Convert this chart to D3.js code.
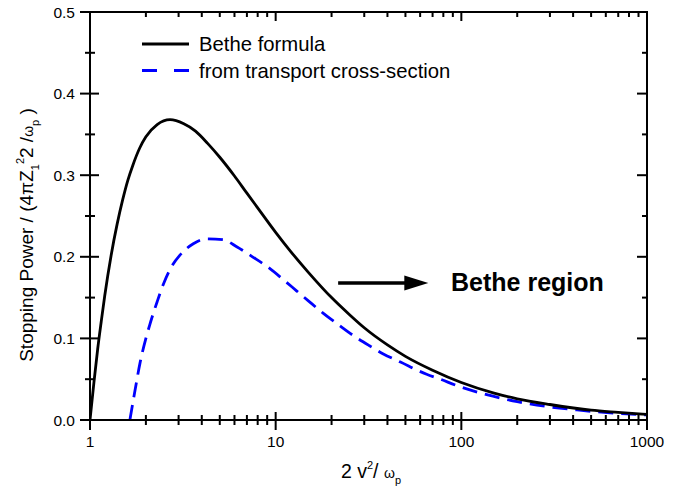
<!DOCTYPE html>
<html><head><meta charset="utf-8">
<script src="https://cdn.jsdelivr.net/npm/d3@7"></script>
<style>
body{margin:0;background:#fff}
svg{display:block}
text{font-family:"Liberation Sans",Arial,Helvetica,sans-serif;fill:#000}
</style>
</head><body>
<svg id="chart" width="692" height="498"></svg>
<script>
// ---- data ----
const betheX = [1, 1.05, 1.1, 1.15, 1.2, 1.3, 1.4, 1.5, 1.6, 1.7, 1.85, 2, 2.3, 2.7, 3.2, 3.7, 4.3, 5, 6, 7, 8, 10, 12, 15, 20, 25, 30, 40, 50, 70, 100, 150, 200, 300, 500, 700, 1000];
const betheY = [0, 0.046, 0.087, 0.121, 0.152, 0.202, 0.240, 0.270, 0.294, 0.312, 0.333, 0.347, 0.362, 0.368, 0.363, 0.354, 0.339, 0.322, 0.299, 0.278, 0.260, 0.230, 0.207, 0.181, 0.150, 0.129, 0.113, 0.092, 0.078, 0.061, 0.046, 0.033, 0.026, 0.019, 0.012, 0.0094, 0.0069];

const transX = [1.64, 1.75, 1.86, 2.0, 2.1, 2.3, 2.5, 2.75, 3.05, 3.6, 4.25, 5.2, 6.2, 7.5, 9, 11, 13, 15, 18, 22, 26, 32, 38, 47, 65, 77, 95, 137, 200, 290, 420, 610, 1000];
const transY = [0, 0.037, 0.070, 0.100, 0.117, 0.145, 0.168, 0.188, 0.202, 0.216, 0.222, 0.221, 0.212, 0.200, 0.188, 0.172, 0.158, 0.146, 0.131, 0.116, 0.104, 0.091, 0.081, 0.071, 0.056, 0.050, 0.042, 0.031, 0.0225, 0.0165, 0.0123, 0.009, 0.0062];

const seriesNames = ["Bethe formula", "from transport cross-section"];
const seriesColors = ["#000000", "#0000ff"];

const xMajorTicks = [1, 10, 100, 1000];
const xTickLabels = ["1", "10", "100", "1000"];
const yMajorTicks = [0, 0.1, 0.2, 0.3, 0.4, 0.5];
const yTickLabels = ["0.0", "0.1", "0.2", "0.3", "0.4", "0.5"];
const yMinorTicks = [0.05, 0.15, 0.25, 0.35, 0.45];

const annotationText = "Bethe region";
const arrowFromX = 21.7, arrowToX = 66.4, arrowY = 0.168, annotationX = 88;

// ---- layout ----
const svg = d3.select("#chart");
const L = 90, R = 647, T = 12, B = 420;

const x = d3.scaleLog().domain([1, 1000]).range([L, R]);
const y = d3.scaleLinear().domain([0, 0.5]).range([B, T]);

const xMinorTicks = x.ticks().filter(v => !xMajorTicks.includes(v));

const g = svg.append("g");

svg.append("defs").append("clipPath").attr("id", "clip")
  .append("rect").attr("x", L).attr("y", T).attr("width", R - L).attr("height", B - T);

const line = d3.line().x(d => x(d[0])).y(d => y(d[1])).curve(d3.curveMonotoneX);

g.append("path")
  .datum(transX.map((v, i) => [v, transY[i]]))
  .attr("d", line).attr("fill", "none").attr("stroke", seriesColors[1])
  .attr("stroke-width", 2.8).attr("stroke-dasharray", "15,8")
  .attr("clip-path", "url(#clip)");

g.append("path")
  .datum(betheX.map((v, i) => [v, betheY[i]]))
  .attr("d", line).attr("fill", "none").attr("stroke", seriesColors[0])
  .attr("stroke-width", 2.8).attr("clip-path", "url(#clip)");

// frame
g.append("rect").attr("x", L).attr("y", T).attr("width", R - L).attr("height", B - T)
  .attr("fill", "none").attr("stroke", "#000").attr("stroke-width", 2);

const tk = g.append("g").attr("stroke", "#000").attr("stroke-width", 2);
xMajorTicks.forEach(v => tk.append("line").attr("x1", x(v)).attr("x2", x(v)).attr("y1", B - 8).attr("y2", B + 10));
xMinorTicks.forEach(v => tk.append("line").attr("x1", x(v)).attr("x2", x(v)).attr("y1", B - 5).attr("y2", B + 5));
xMajorTicks.forEach(v => tk.append("line").attr("x1", x(v)).attr("x2", x(v)).attr("y1", T).attr("y2", T + 9));
xMinorTicks.forEach(v => tk.append("line").attr("x1", x(v)).attr("x2", x(v)).attr("y1", T).attr("y2", T + 5));
yMajorTicks.forEach(v => tk.append("line").attr("y1", y(v)).attr("y2", y(v)).attr("x1", L - 10).attr("x2", L + 9));
yMinorTicks.forEach(v => tk.append("line").attr("y1", y(v)).attr("y2", y(v)).attr("x1", L - 5).attr("x2", L + 5));
yMajorTicks.forEach(v => tk.append("line").attr("y1", y(v)).attr("y2", y(v)).attr("x1", R - 10).attr("x2", R));
yMinorTicks.forEach(v => tk.append("line").attr("y1", y(v)).attr("y2", y(v)).attr("x1", R - 5).attr("x2", R));

// tick labels
g.selectAll(".xl").data(xMajorTicks).enter().append("text")
  .attr("x", d => x(d)).attr("y", B + 27).attr("text-anchor", "middle")
  .attr("font-size", 15.5).text((d, i) => xTickLabels[i]);
g.selectAll(".yl").data(yMajorTicks).enter().append("text")
  .attr("x", L - 15).attr("y", d => y(d) + 5.5).attr("text-anchor", "end")
  .attr("font-size", 15.5).text((d, i) => yTickLabels[i]);

// x axis title: 2 v²/ ω_p
const xt = g.append("text").attr("x", 371).attr("y", 478).attr("text-anchor", "middle").attr("font-size", 19.5);
xt.append("tspan").text("2 v");
xt.append("tspan").attr("font-size", 11).attr("dy", -9).text("2");
xt.append("tspan").attr("dy", 9).text("/ ");
xt.append("tspan").attr("font-size", 14).text("ω");
xt.append("tspan").attr("font-size", 11).attr("dy", 6).text("p");

// y axis title
const yt = g.append("text").attr("transform", "translate(33,235) rotate(-90)")
  .attr("text-anchor", "middle").attr("font-size", 19);
yt.append("tspan").text("Stopping Power / (4πZ");
yt.append("tspan").attr("font-size", 11).attr("dy", 6).text("1");
yt.append("tspan").attr("font-size", 11).attr("dy", -15).text("2");
yt.append("tspan").attr("dy", 9).text("2 /");
yt.append("tspan").attr("font-size", 14).text("ω");
yt.append("tspan").attr("font-size", 11).attr("dy", 6).text("p");
yt.append("tspan").attr("dy", -6).text(" )");

// legend
const lg = g.append("g");
lg.append("line").attr("x1", 142).attr("x2", 189).attr("y1", 44).attr("y2", 44)
  .attr("stroke", seriesColors[0]).attr("stroke-width", 2.8);
lg.append("text").attr("x", 199).attr("y", 51).attr("font-size", 20.3).text(seriesNames[0]);
lg.append("line").attr("x1", 142).attr("x2", 189).attr("y1", 70.5).attr("y2", 70.5)
  .attr("stroke", seriesColors[1]).attr("stroke-width", 2.8).attr("stroke-dasharray", "15,17");
lg.append("text").attr("x", 199).attr("y", 77.5).attr("font-size", 20.3).text(seriesNames[1]);

// annotation arrow + text
const ax0 = x(arrowFromX), ax1 = x(arrowToX), ay = y(arrowY);
g.append("line").attr("x1", ax0).attr("x2", ax1 - 20).attr("y1", ay).attr("y2", ay)
  .attr("stroke", "#000").attr("stroke-width", 3.5);
g.append("path").attr("d", `M${ax1},${ay} L${ax1 - 24},${ay - 7.5} L${ax1 - 24},${ay + 7.5} Z`).attr("fill", "#000");
g.append("text").attr("x", x(annotationX)).attr("y", ay + 8.5).attr("font-size", 25)
  .attr("font-weight", "bold").text(annotationText);
</script>
</body></html>
